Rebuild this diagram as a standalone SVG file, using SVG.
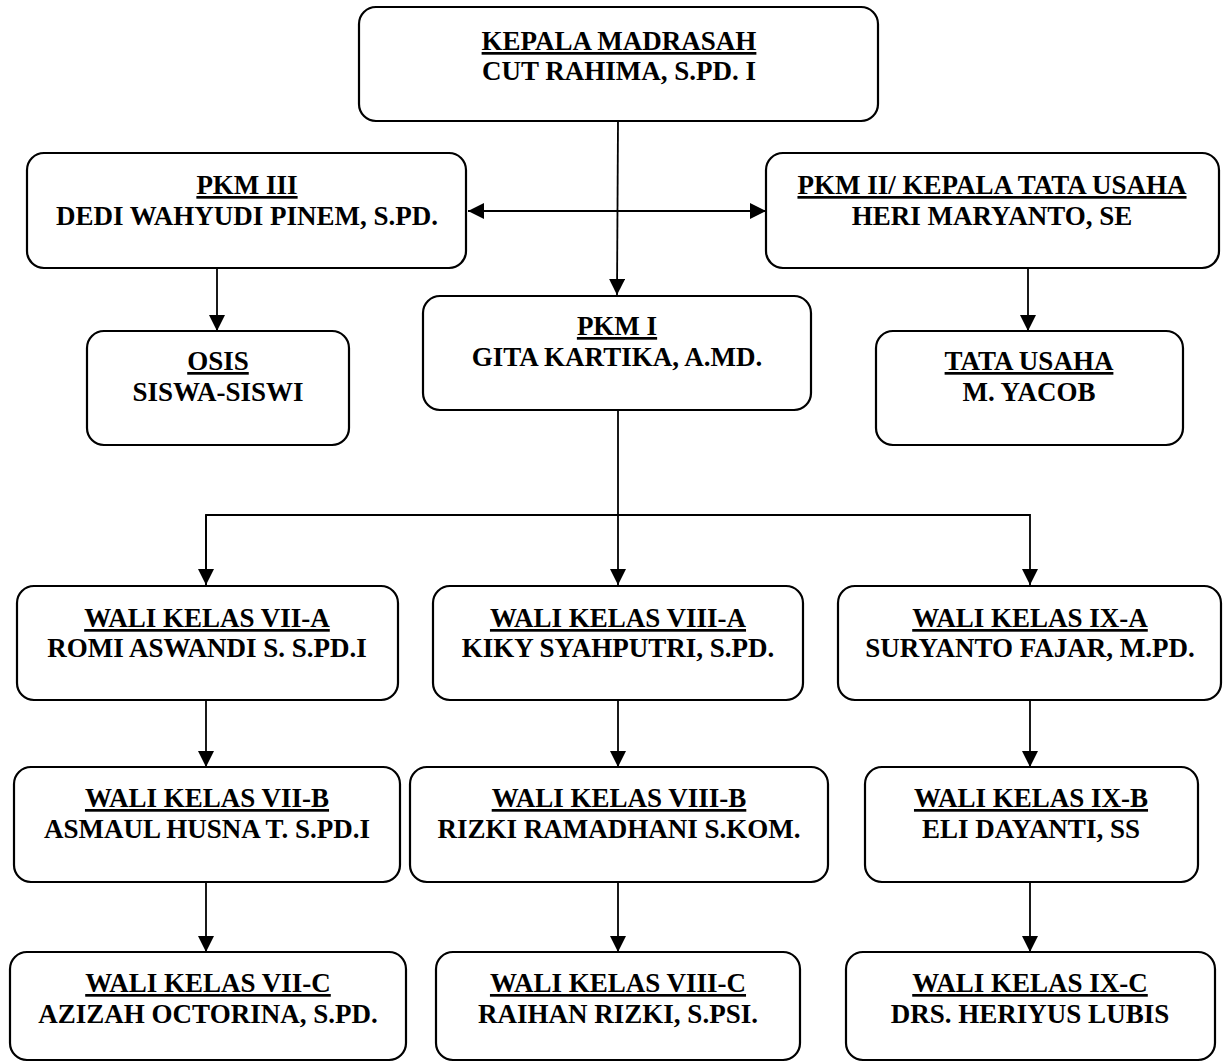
<svg xmlns="http://www.w3.org/2000/svg" width="1223" height="1062" viewBox="0 0 1223 1062">
<style>
.box{fill:#fff;stroke:#000;stroke-width:2.2}
.t{font-family:"Liberation Serif","Times New Roman",serif;font-weight:bold;font-size:27px;fill:#000;text-anchor:middle}
.u{text-decoration:underline}
.c{fill:none;stroke:#000;stroke-width:1.8}
</style>
<defs>
<marker id="ah" markerUnits="userSpaceOnUse" markerWidth="16" markerHeight="16" refX="16" refY="8" orient="auto-start-reverse">
<path d="M0,0 L16,8 L0,16 Z" fill="#000"/>
</marker>
</defs>
<rect width="1223" height="1062" fill="#fff"/>
<g id="connectors">
<path class="c" d="M618,121 L617,295" marker-end="url(#ah)"/>
<path class="c" d="M468,211 L766,211" marker-start="url(#ah)" marker-end="url(#ah)"/>
<path class="c" d="M217,268 L217,331" marker-end="url(#ah)"/>
<path class="c" d="M1028,268 L1028,331" marker-end="url(#ah)"/>
<path class="c" d="M618,410 L618,585" marker-end="url(#ah)"/>
<path class="c" d="M206,585 L206,515 L1030,515 L1030,585" marker-end="url(#ah)"/>
<path class="c" d="M206,515 L206,585" marker-end="url(#ah)"/>
<path class="c" d="M206,700 L206,767" marker-end="url(#ah)"/>
<path class="c" d="M618,700 L618,767" marker-end="url(#ah)"/>
<path class="c" d="M1030,700 L1030,767" marker-end="url(#ah)"/>
<path class="c" d="M206,882 L206,952" marker-end="url(#ah)"/>
<path class="c" d="M618,882 L618,952" marker-end="url(#ah)"/>
<path class="c" d="M1030,882 L1030,952" marker-end="url(#ah)"/>
</g>
<g id="kepala">
<rect class="box" x="359" y="7" width="519" height="114" rx="17"/>
<text class="t u" x="619" y="50">KEPALA MADRASAH</text>
<text class="t" x="619" y="80">CUT RAHIMA, S.PD. I</text>
</g>
<g id="pkm3">
<rect class="box" x="27" y="153" width="439" height="115" rx="17"/>
<text class="t u" x="247" y="194">PKM III</text>
<text class="t" x="247" y="225">DEDI WAHYUDI PINEM, S.PD.</text>
</g>
<g id="pkm2">
<rect class="box" x="766" y="153" width="453" height="115" rx="17"/>
<text class="t u" x="992" y="194">PKM II/ KEPALA TATA USAHA</text>
<text class="t" x="992" y="225">HERI MARYANTO, SE</text>
</g>
<g id="pkm1">
<rect class="box" x="423" y="296" width="388" height="114" rx="17"/>
<text class="t u" x="617" y="335">PKM I</text>
<text class="t" x="617" y="366">GITA KARTIKA, A.MD.</text>
</g>
<g id="osis">
<rect class="box" x="87" y="331" width="262" height="114" rx="17"/>
<text class="t u" x="218" y="370">OSIS</text>
<text class="t" x="218" y="401">SISWA-SISWI</text>
</g>
<g id="tatausaha">
<rect class="box" x="876" y="331" width="307" height="114" rx="17"/>
<text class="t u" x="1029" y="370">TATA USAHA</text>
<text class="t" x="1029" y="401">M. YACOB</text>
</g>
<g id="vii-a">
<rect class="box" x="17" y="586" width="381" height="114" rx="17"/>
<text class="t u" x="207" y="627">WALI KELAS VII-A</text>
<text class="t" x="207" y="657">ROMI ASWANDI S. S.PD.I</text>
</g>
<g id="viii-a">
<rect class="box" x="433" y="586" width="370" height="114" rx="17"/>
<text class="t u" x="618" y="627">WALI KELAS VIII-A</text>
<text class="t" x="618" y="657">KIKY SYAHPUTRI, S.PD.</text>
</g>
<g id="ix-a">
<rect class="box" x="838" y="586" width="383" height="114" rx="17"/>
<text class="t u" x="1030" y="627">WALI KELAS IX-A</text>
<text class="t" x="1030" y="657">SURYANTO FAJAR, M.PD.</text>
</g>
<g id="vii-b">
<rect class="box" x="14" y="767" width="386" height="115" rx="17"/>
<text class="t u" x="207" y="807">WALI KELAS VII-B</text>
<text class="t" x="207" y="838">ASMAUL HUSNA T. S.PD.I</text>
</g>
<g id="viii-b">
<rect class="box" x="410" y="767" width="418" height="115" rx="17"/>
<text class="t u" x="619" y="807">WALI KELAS VIII-B</text>
<text class="t" x="619" y="838">RIZKI RAMADHANI S.KOM.</text>
</g>
<g id="ix-b">
<rect class="box" x="865" y="767" width="333" height="115" rx="17"/>
<text class="t u" x="1031" y="807">WALI KELAS IX-B</text>
<text class="t" x="1031" y="838">ELI DAYANTI, SS</text>
</g>
<g id="vii-c">
<rect class="box" x="10" y="952" width="396" height="108" rx="17"/>
<text class="t u" x="208" y="992">WALI KELAS VII-C</text>
<text class="t" x="208" y="1023">AZIZAH OCTORINA, S.PD.</text>
</g>
<g id="viii-c">
<rect class="box" x="436" y="952" width="364" height="108" rx="17"/>
<text class="t u" x="618" y="992">WALI KELAS VIII-C</text>
<text class="t" x="618" y="1023">RAIHAN RIZKI, S.PSI.</text>
</g>
<g id="ix-c">
<rect class="box" x="846" y="952" width="369" height="108" rx="17"/>
<text class="t u" x="1030" y="992">WALI KELAS IX-C</text>
<text class="t" x="1030" y="1023">DRS. HERIYUS LUBIS</text>
</g>
</svg>
